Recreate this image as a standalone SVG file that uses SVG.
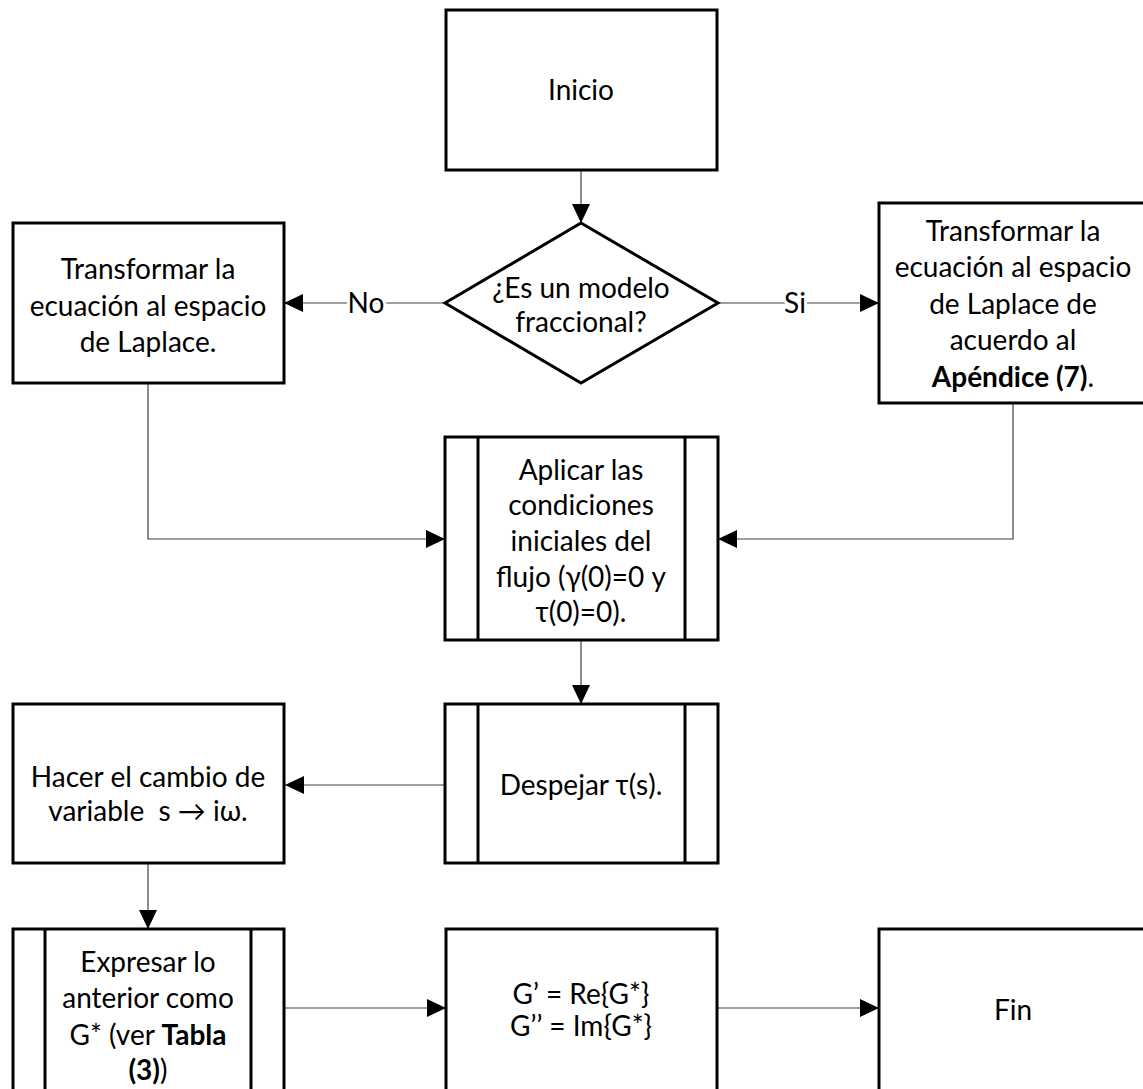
<svg xmlns="http://www.w3.org/2000/svg" width="1143" height="1089" viewBox="0 0 1143 1089">
<style>
.box{fill:#fff;stroke:#000;stroke-width:3}
.in{stroke:#000;stroke-width:3}
.t{font-family:Lato,"Liberation Sans",sans-serif;font-size:28px;fill:#000;text-anchor:middle}
.b{font-weight:bold}
.c{fill:none;stroke:#404040;stroke-width:1.2}
.lbl{paint-order:stroke;stroke:#fff;stroke-width:6}
</style>
<defs>
<marker id="ah" markerUnits="userSpaceOnUse" markerWidth="19" markerHeight="18" refX="19" refY="9" orient="auto">
<path d="M0,0 L19,9 L0,18 z" fill="#000"/>
</marker>
</defs>
<rect width="1143" height="1089" fill="#fff"/>
<g id="connectors">
<path class="c" d="M581,170 V223" marker-end="url(#ah)"/>
<path class="c" d="M445,303 H284" marker-end="url(#ah)"/>
<path class="c" d="M718,303 H879" marker-end="url(#ah)"/>
<path class="c" d="M148,383 V539 H445" marker-end="url(#ah)"/>
<path class="c" d="M1013,403 V539 H718" marker-end="url(#ah)"/>
<path class="c" d="M581,640 V704" marker-end="url(#ah)"/>
<path class="c" d="M445,785 H285" marker-end="url(#ah)"/>
<path class="c" d="M148,863 V929" marker-end="url(#ah)"/>
<path class="c" d="M284,1008 H446" marker-end="url(#ah)"/>
<path class="c" d="M717,1008 H879" marker-end="url(#ah)"/>
<text class="t lbl" x="366" y="313">No</text>
<text class="t lbl" x="795" y="313">Si</text>
</g>
<g id="inicio">
<rect class="box" x="446" y="10" width="271" height="160"/>
<text class="t" x="581" y="100">Inicio</text>
</g>
<g id="decision">
<polygon class="box" points="581,223 718,303 581,383 445,303"/>
<text class="t" x="581" y="298">¿Es un modelo</text>
<text class="t" x="581" y="332">fraccional?</text>
</g>
<g id="laplace">
<rect class="box" x="13" y="223" width="271" height="160"/>
<text class="t" x="148" y="279">Transformar la</text>
<text class="t" x="148" y="316">ecuación al espacio</text>
<text class="t" x="148" y="352">de Laplace.</text>
</g>
<g id="laplace-frac">
<rect class="box" x="879" y="203" width="268" height="200"/>
<text class="t" x="1013" y="241">Transformar la</text>
<text class="t" x="1013" y="277">ecuación al espacio</text>
<text class="t" x="1013" y="314">de Laplace de</text>
<text class="t" x="1013" y="350">acuerdo al</text>
<text class="t" x="1013" y="387"><tspan class="b">Apéndice (7)</tspan>.</text>
</g>
<g id="aplicar">
<rect class="box" x="445" y="437" width="273" height="203"/>
<line class="in" x1="478" y1="437" x2="478" y2="640"/>
<line class="in" x1="685" y1="437" x2="685" y2="640"/>
<text class="t" x="581" y="480">Aplicar las</text>
<text class="t" x="581" y="515">condiciones</text>
<text class="t" x="581" y="551">iniciales del</text>
<text class="t" x="581" y="587">flujo (γ(0)=0 y</text>
<text class="t" x="581" y="622">τ(0)=0).</text>
</g>
<g id="despejar">
<rect class="box" x="445" y="704" width="273" height="159"/>
<line class="in" x1="478" y1="704" x2="478" y2="863"/>
<line class="in" x1="685" y1="704" x2="685" y2="863"/>
<text class="t" x="581" y="795">Despejar τ(s).</text>
</g>
<g id="hacer">
<rect class="box" x="13" y="704" width="271" height="159"/>
<text class="t" x="148" y="787">Hacer el cambio de</text>
<text class="t" x="148" y="821">variable&#160; s → iω.</text>
</g>
<g id="expresar">
<rect class="box" x="13" y="929" width="271" height="170"/>
<line class="in" x1="45" y1="929" x2="45" y2="1099"/>
<line class="in" x1="251" y1="929" x2="251" y2="1099"/>
<text class="t" x="148" y="972">Expresar lo</text>
<text class="t" x="148" y="1008">anterior como</text>
<text class="t" x="148" y="1045">G* (ver <tspan class="b">Tabla</tspan></text>
<text class="t" x="148" y="1080"><tspan class="b">(3)</tspan>)</text>
</g>
<g id="g-def">
<rect class="box" x="446" y="929" width="271" height="170"/>
<text class="t" x="581" y="1004">G’ = Re{G*}</text>
<text class="t" x="581" y="1036">G’’ = Im{G*}</text>
</g>
<g id="fin">
<rect class="box" x="879" y="929" width="268" height="170"/>
<text class="t" x="1013" y="1020">Fin</text>
</g>
</svg>
